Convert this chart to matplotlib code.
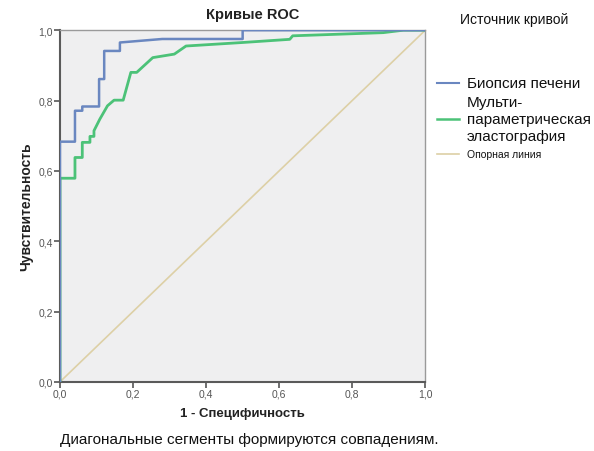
import matplotlib
matplotlib.use("Agg")
import matplotlib.pyplot as plt
from matplotlib.lines import Line2D

plt.rcParams['font.family'] = ['Liberation Sans', 'DejaVu Sans']

# Data
biopsy_fpr = [0.0, 0.0, 0.041, 0.041, 0.061, 0.061, 0.107, 0.107, 0.121, 0.121, 0.164, 0.164, 0.28, 0.5, 0.5, 1.0]
biopsy_tpr = [0.0, 0.683, 0.683, 0.771, 0.771, 0.783, 0.783, 0.861, 0.861, 0.941, 0.941, 0.965, 0.975, 0.975, 1.0, 1.0]

elasto_fpr = [0.0, 0.0, 0.041, 0.041, 0.061, 0.061, 0.082, 0.082, 0.093, 0.093, 0.109, 0.13, 0.148, 0.173,
              0.194, 0.21, 0.254, 0.313, 0.345, 0.5, 0.629, 0.637, 0.885, 0.94, 1.0]
elasto_tpr = [0.0, 0.579, 0.579, 0.638, 0.638, 0.681, 0.681, 0.698, 0.698, 0.714, 0.747, 0.785, 0.801, 0.801,
              0.88, 0.88, 0.922, 0.932, 0.955, 0.965, 0.974, 0.984, 0.993, 1.0, 1.0]

ref_x = [0.0, 1.0]
ref_y = [0.0, 1.0]

ticks = [0.0, 0.2, 0.4, 0.6, 0.8, 1.0]
tick_labels = ["0,0", "0,2", "0,4", "0,6", "0,8", "1,0"]

title = "Кривые ROC"
xlabel = "1 - Специфичность"
ylabel = "Чувствительность"
footnote = "Диагональные сегменты формируются совпадениям."
legend_title = "Источник кривой"
legend_labels = ["Биопсия печени", "Мульти-\nпараметрическая\nэластография", "Опорная линия"]

blue = "#6a87c0"
green = "#4cc278"
tan = "#ddd0a6"

fig = plt.figure(figsize=(5.94, 4.52), dpi=100)
fig.patch.set_facecolor("white")
ax = fig.add_axes([0.101, 0.153, 0.615, 0.778])
ax.set_facecolor("#efeff0")

ax.plot(ref_x, ref_y, color=tan, lw=1.2, zorder=2)
ax.plot(elasto_fpr, elasto_tpr, color=green, lw=2.0, zorder=3)
ax.plot(biopsy_fpr, biopsy_tpr, color=blue, lw=1.8, zorder=4)

ax.set_xlim(0, 1)
ax.set_ylim(0, 1)
ax.set_xticks(ticks)
ax.set_xticklabels(tick_labels)
ax.set_yticks(ticks)
ax.set_yticklabels(tick_labels)
ax.tick_params(axis='both', direction='out', length=4, width=1.2, color="#555555",
               labelsize=7.5, labelcolor="#555555", pad=1)
for side in ['left', 'bottom']:
    ax.spines[side].set_color("#5a5a5a")
    ax.spines[side].set_linewidth(1.5)
for side in ['top', 'right']:
    ax.spines[side].set_color("#9a9a9a")
    ax.spines[side].set_linewidth(1.0)

fig.text(253 / 594, 1 - 15 / 452, title, fontsize=10.5, fontweight='bold', color="#222222",
         ha='center', va='center')
ax.set_xlabel(xlabel, fontsize=9.5, fontweight='bold', color="#222222", labelpad=6)
ax.set_ylabel(ylabel, fontsize=10, fontweight='bold', color="#222222", labelpad=4)

fig.text(60 / 594, 1 - 440 / 452, footnote, fontsize=11, color="#111111", va='center', ha='left')

# Legend (manual)
fig.text(514 / 594, 1 - 20 / 452, legend_title, fontsize=10, color="#111111", va='center', ha='center')
entries = [(84, blue, 1.5, legend_labels[0], 11), (120, green, 1.8, legend_labels[1], 11),
           (155, tan, 1.2, legend_labels[2], 7.5)]
for ypx, col, lw, lab, fs in entries:
    yf = 1 - ypx / 452
    fig.add_artist(Line2D([437 / 594, 459 / 594], [yf, yf], color=col, lw=lw, transform=fig.transFigure))
    fig.text(467 / 594, yf, lab, fontsize=fs, color="#111111", va='center', ha='left', linespacing=1.3)

fig.savefig("out.png", dpi=100)
